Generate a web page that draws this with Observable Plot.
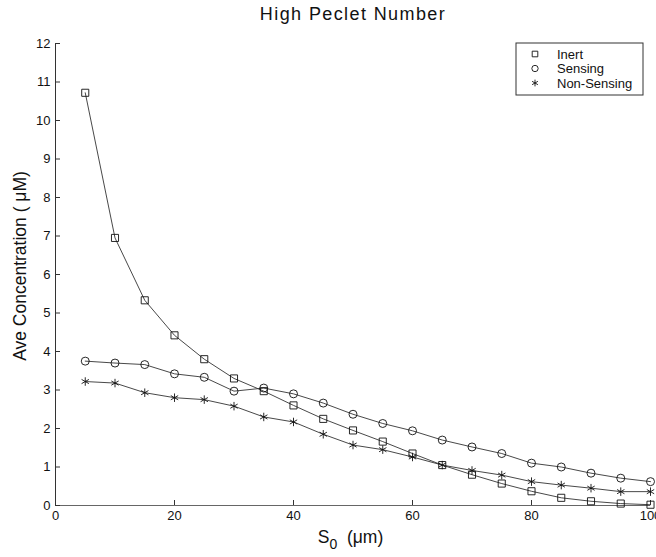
<!DOCTYPE html>
<html>
<head>
<meta charset="utf-8">
<script src="https://cdn.jsdelivr.net/npm/d3@7"></script>
<script src="https://cdn.jsdelivr.net/npm/@observablehq/plot@0.6"></script>
<style>
  body { margin: 0; background: #fff; }
  #chart { width: 656px; height: 557px; }
</style>
</head>
<body>
<div id="chart"></div>
<script>
// Initial separation S0 (µm)
const s0 = [5, 10, 15, 20, 25, 30, 35, 40, 45, 50, 55, 60, 65, 70, 75, 80, 85, 90, 95, 100];

// Average concentration (µM) for each bead type
const inert = [10.72, 6.95, 5.33, 4.42, 3.8, 3.3, 2.97, 2.6, 2.25, 1.95, 1.66, 1.35, 1.05, 0.8, 0.57, 0.37, 0.2, 0.11, 0.05, 0.02];
const sensing = [3.75, 3.7, 3.66, 3.42, 3.33, 2.97, 3.05, 2.9, 2.66, 2.37, 2.13, 1.94, 1.7, 1.52, 1.35, 1.1, 1.0, 0.84, 0.71, 0.62];
const nonSensing = [3.22, 3.18, 2.93, 2.8, 2.75, 2.58, 2.3, 2.17, 1.85, 1.57, 1.45, 1.26, 1.05, 0.91, 0.79, 0.62, 0.53, 0.45, 0.36, 0.36];

const seriesNames = ["Inert", "Sensing", "Non-Sensing"];
const seriesSymbols = ["square", "circle", "asterisk"];

const xTicks = [0, 20, 40, 60, 80, 100];
const yTicks = [0, 1, 2, 3, 4, 5, 6, 7, 8, 9, 10, 11, 12];

const titleText = "High Peclet Number";
const yLabelText = "Ave Concentration ( \u03BCM)";

// long table: one row per (series, S0)
const rows = [];
[inert, sensing, nonSensing].forEach((vals, i) =>
  vals.forEach((v, j) => rows.push({ series: seriesNames[i], s0: s0[j], conc: v }))
);

const font = "'Liberation Sans', Arial, Helvetica, sans-serif";

const chart = Plot.plot({
  width: 656,
  height: 557,
  marginLeft: 55,
  marginRight: 6,
  marginTop: 43,
  marginBottom: 52,
  style: { fontFamily: font, fontSize: "13px", color: "#111", background: "#fff", overflow: "visible" },
  x: { domain: [0, 100] },
  y: { domain: [0, 12] },
  symbol: { domain: seriesNames, range: seriesSymbols },
  marks: [
    // axis lines
    Plot.ruleY([0], { stroke: "#666", strokeWidth: 1 }),
    Plot.ruleX([0], { stroke: "#333", strokeWidth: 1 }),
    // tick labels
    Plot.axisX(xTicks, { tickSize: 0, tickPadding: 5, label: null, fontSize: 13 }),
    Plot.axisY(yTicks, { tickSize: 0, tickPadding: 5, label: null, fontSize: 13 }),
    // inward ticks
    Plot.axisX(xTicks, { tickSize: -5, tickFormat: () => "", label: null, stroke: "#333" }),
    Plot.axisY(yTicks, { tickSize: -5, tickFormat: () => "", label: null, stroke: "#333" }),
    // series
    Plot.line(rows, { x: "s0", y: "conc", z: "series", stroke: "#333", strokeWidth: 0.9 }),
    Plot.dot(rows, { x: "s0", y: "conc", symbol: "series", stroke: "#111", fill: "none", r: 4, strokeWidth: 0.9 }),
    // title
    Plot.text([titleText], { frameAnchor: "top", lineAnchor: "middle", dy: -29, fontSize: 18, fill: "#111", style: "letter-spacing:1.4px" })
  ]
});

document.getElementById("chart").appendChild(chart);

const svg = d3.select(chart);
svg.selectAll("text").filter(function () { return this.textContent === titleText; })
  .style("letter-spacing", "1.4px");
const xs = chart.scale("x"), ys = chart.scale("y");
const frameCx = (xs.range[0] + xs.range[1]) / 2;
const frameCy = (ys.range[0] + ys.range[1]) / 2;

// x-axis label with subscript
const xl = svg.append("text")
  .attr("x", frameCx - 2)
  .attr("y", ys.range[0] + 38)
  .attr("text-anchor", "middle")
  .attr("font-family", font)
  .attr("font-size", 17.5)
  .attr("fill", "#111");
xl.append("tspan").text("S");
xl.append("tspan").attr("dy", 6).attr("font-size", 14).text("0");
xl.append("tspan").attr("dy", -6).text("\u00A0 (\u03BCm)");

// y-axis label
svg.append("text")
  .attr("transform", `translate(20,${frameCy - 8}) rotate(-90)`)
  .attr("text-anchor", "middle")
  .attr("dominant-baseline", "central")
  .attr("font-family", font)
  .attr("font-size", 17.5)
  .attr("fill", "#111")
  .text(yLabelText);

// legend box in the top-right corner
const lgW = 127, lgH = 52;
const lgX = xs.range[1] - 7 - lgW, lgY = ys.range[1];
const lg = svg.append("g").attr("transform", `translate(${lgX},${lgY})`);
lg.append("rect").attr("width", lgW).attr("height", lgH)
  .attr("fill", "#fff").attr("stroke", "#333").attr("stroke-width", 1);
const d3Symbols = { square: d3.symbolSquare, circle: d3.symbolCircle, asterisk: d3.symbolAsterisk };
seriesNames.forEach((name, i) => {
  const ry = 11 + i * 14.5;
  lg.append("path")
    .attr("transform", `translate(19,${ry})`)
    .attr("d", d3.symbol(d3Symbols[seriesSymbols[i]], Math.PI * 10)())
    .attr("fill", "none").attr("stroke", "#111").attr("stroke-width", 0.9);
  lg.append("text")
    .attr("x", 41).attr("y", ry)
    .attr("text-anchor", "start")
    .attr("dominant-baseline", "central")
    .attr("font-family", font)
    .attr("font-size", 13)
    .attr("fill", "#111")
    .text(name);
});
</script>
</body>
</html>
